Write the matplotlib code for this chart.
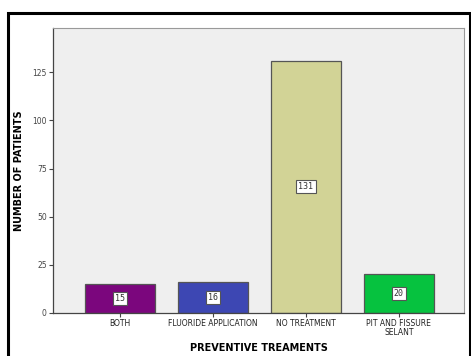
import matplotlib.pyplot as plt
from matplotlib.patches import Rectangle

# data
categories = ['BOTH', 'FLUORIDE APPLICATION', 'NO TREATMENT', 'PIT AND FISSURE\nSELANT']
patients = [15, 16, 131, 20]
colors = ['#7b067d', '#3d47b3', '#d2d396', '#06c23f']
yticks = [0, 25, 50, 75, 100, 125]

W, H = 471, 356
fig = plt.figure(figsize=(W / 100, H / 100), dpi=100)
fig.patch.set_facecolor('white')

# outer black frame
fig.patches.append(Rectangle((8 / W, -0.01), 462 / W, (H - 13) / H + 0.01,
                             transform=fig.transFigure, fill=False,
                             edgecolor='black', linewidth=2.2))

ax = fig.add_axes([53 / W, (H - 313) / H, (464 - 53) / W, (313 - 28) / H])
ax.set_facecolor('#efefef')

x = list(range(len(categories)))
ax.bar(x, patients, width=0.75, color=colors, edgecolor='#555555', linewidth=0.9)

for xi, v in zip(x, patients):
    ax.text(xi, v / 2, str(v), ha='center', va='center', fontsize=6,
            family='DejaVu Sans Mono', color='#333333',
            bbox=dict(boxstyle='square,pad=0.25', facecolor='white',
                      edgecolor='#555555', linewidth=0.8))

ax.set_xlim(-0.72, 3.70)
ax.set_ylim(0, 148)
ax.set_yticks(yticks)
ax.set_yticklabels([str(t) for t in yticks], fontsize=5.5, color='#444444')
ax.set_xticks(x)
ax.set_xticklabels(categories, fontsize=5.5, color='#222222', linespacing=0.9)
ax.tick_params(axis='both', length=3, width=0.8, color='#444444', pad=1.5)

for s in ['top', 'right']:
    ax.spines[s].set_color('#999999')
    ax.spines[s].set_linewidth(0.8)
for s in ['left', 'bottom']:
    ax.spines[s].set_color('#444444')
    ax.spines[s].set_linewidth(0.9)

ax.set_ylabel('NUMBER OF PATIENTS', fontsize=7, fontweight='bold')
ax.yaxis.set_label_coords(-0.07, 0.5)
ax.set_xlabel('PREVENTIVE TREAMENTS', fontsize=7, fontweight='bold')
ax.xaxis.set_label_coords(0.5, -0.105)

fig.savefig('out.png', dpi=100)
